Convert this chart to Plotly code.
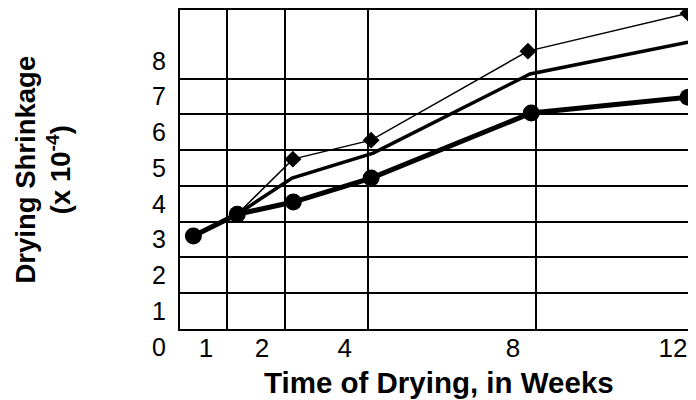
import plotly.graph_objects as go

# Data (x in weeks-axis units, y in shrinkage units x 10^-4)
circle_x = [0.36, 1.41, 2.75, 4.61, 8.44, 12.19]
circle_y = [3.10, 3.71, 4.05, 4.72, 6.54, 6.98]

middle_x = [1.41, 2.72, 4.66, 8.41, 12.19]
middle_y = [3.71, 4.72, 5.42, 7.63, 8.52]

diamond_x = [1.41, 2.74, 4.61, 8.36, 12.19]
diamond_y = [3.71, 5.25, 5.78, 8.27, 9.33]

x_tick_positions = [0.66, 2.0, 3.98, 8.0, 11.83]
x_tick_labels = ["1", "2", "4", "8", "12"]
x_grid_positions = [1.16, 2.55, 4.54, 8.56]

y_tick_positions = [0.5, 1.5, 2.5, 3.5, 4.5, 5.5, 6.5, 7.5, 8.5]
y_tick_labels = ["0", "1", "2", "3", "4", "5", "6", "7", "8"]
y_grid_positions = [0.5, 1.5, 2.5, 3.5, 4.5, 5.5, 6.5, 7.5]

FONT = "Liberation Sans, Arial, Helvetica, sans-serif"

fig = go.Figure()

fig.add_trace(go.Scatter(x=diamond_x, y=diamond_y, mode="lines",
                         line=dict(color="black", width=1.5),
                         showlegend=False, cliponaxis=False, hoverinfo="skip"))
fig.add_trace(go.Scatter(x=diamond_x[1:], y=diamond_y[1:], mode="markers",
                         marker=dict(symbol="diamond", size=13, color="black"),
                         showlegend=False, cliponaxis=False))
fig.add_trace(go.Scatter(x=middle_x, y=middle_y, mode="lines",
                         line=dict(color="black", width=3.5),
                         showlegend=False, cliponaxis=False))
fig.add_trace(go.Scatter(x=circle_x, y=circle_y, mode="lines+markers",
                         line=dict(color="black", width=5),
                         marker=dict(symbol="circle", size=17, color="black"),
                         showlegend=False, cliponaxis=False))

fig.update_layout(
    width=696, height=400,
    margin=dict(l=172, r=0, t=2, b=79, autoexpand=False),
    paper_bgcolor="white", plot_bgcolor="white",
    font=dict(family=FONT, color="black"),
    xaxis=dict(
        range=[0.04, 12.57], showgrid=False, zeroline=False, automargin=False,
        showline=True, mirror=True, linecolor="black", linewidth=2,
        tickmode="array", tickvals=x_tick_positions, ticktext=x_tick_labels,
        ticks="", tickfont=dict(size=26, family=FONT, color="black"),
        ticklabelstandoff=-5,
        minor=dict(tickmode="array", tickvals=x_grid_positions, showgrid=True,
                   gridcolor="black", gridwidth=2, ticks=""),
    ),
    yaxis=dict(
        range=[0.5, 9.42], showgrid=False, zeroline=False, automargin=False,
        showline=True, mirror=False, linecolor="black", linewidth=2,
        tickmode="array", tickvals=y_tick_positions, ticktext=y_tick_labels,
        ticks="", tickfont=dict(size=25, family=FONT, color="black"),
        ticklabelshift=18, ticklabelstandoff=7,
        minor=dict(tickmode="array", tickvals=y_grid_positions, showgrid=True,
                   gridcolor="black", gridwidth=2, ticks=""),
    ),
    annotations=[
        dict(text="<b>Time of Drying, in Weeks</b>", xref="paper", yref="paper",
             x=0.494, y=0, xanchor="center", yanchor="middle", yshift=-53,
             showarrow=False, font=dict(size=29.5, family=FONT, color="black")),
        dict(text="<b>Drying Shrinkage<br>(x 10<sup>-4</sup>)</b>", xref="paper", yref="paper",
             x=0, y=0.5, xanchor="center", yanchor="middle", xshift=-137,
             textangle=-90, showarrow=False,
             font=dict(size=27.5, family=FONT, color="black")),
    ],
)

fig.write_html("out.html")
